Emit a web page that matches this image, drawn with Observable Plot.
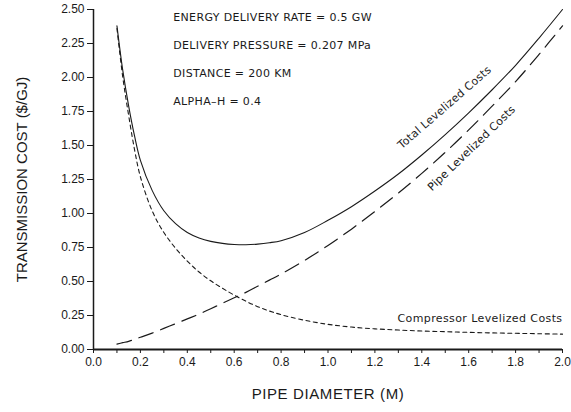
<!DOCTYPE html>
<html>
<head>
<meta charset="utf-8">
<script src="https://cdn.jsdelivr.net/npm/d3@7"></script>
<script src="https://cdn.jsdelivr.net/npm/@observablehq/plot@0.6"></script>
<style>
  html, body { margin: 0; padding: 0; background: #fff; }
  svg { font-family: "Liberation Sans", Arial, sans-serif; }
</style>
</head>
<body>
<div id="chart"></div>
<script>
const diameters = [0.1,0.125,0.15,0.175,0.2,0.25,0.3,0.35,0.4,0.45,0.5,0.55,0.6,0.65,0.7,0.75,0.8,0.9,1.0,1.1,1.2,1.3,1.4,1.5,1.6,1.7,1.8,1.9,2.0];
const totalCost = [2.38,2.05,1.79,1.57,1.39,1.17,1.02,0.925,0.86,0.82,0.795,0.78,0.772,0.77,0.775,0.785,0.80,0.86,0.95,1.05,1.165,1.29,1.43,1.58,1.74,1.91,2.09,2.29,2.50];
const compressorCost = [2.36,2.00,1.72,1.47,1.27,1.02,0.86,0.745,0.65,0.57,0.505,0.45,0.40,0.355,0.315,0.283,0.256,0.215,0.185,0.165,0.152,0.143,0.136,0.131,0.126,0.122,0.119,0.116,0.113];
const pipeCost = [0.04,0.05,0.06,0.075,0.09,0.12,0.155,0.19,0.225,0.26,0.30,0.34,0.38,0.42,0.465,0.51,0.555,0.655,0.765,0.885,1.015,1.15,1.295,1.45,1.615,1.79,1.97,2.17,2.38];

const xTicks = [0.0,0.2,0.4,0.6,0.8,1.0,1.2,1.4,1.6,1.8,2.0];
const xMinorTicks = [0.1,0.3,0.5,0.7,0.9,1.1,1.3,1.5,1.7,1.9];
const yTicks = [0.00,0.25,0.50,0.75,1.00,1.25,1.50,1.75,2.00,2.25,2.50];

const notes = ["ENERGY DELIVERY RATE = 0.5 GW","DELIVERY PRESSURE = 0.207 MPa","DISTANCE = 200 KM","ALPHA\u2013H = 0.4"];
const noteX = [0.34,0.34,0.34,0.34];
const noteY = [2.44,2.235,2.03,1.825];

const xTitle = "PIPE DIAMETER (M)";
const yTitle = "TRANSMISSION COST ($/GJ)";

const slopedLabels = [
  {text: "Total Levelized Costs", x: 1.497, y: 1.78, rotate: -41},
  {text: "Pipe Levelized Costs", x: 1.612, y: 1.48, rotate: -44}
];
const flatLabels = [
  {text: "Compressor Levelized Costs", x: 2.0, y: 0.225}
];

const rows = (vals) => diameters.map((d, i) => ({d, v: vals[i]}));
const ink = "#1a1a1a";
const labelFont = "'DejaVu Sans', Verdana, sans-serif";

const chart = Plot.plot({
  width: 571,
  height: 412,
  marginLeft: 93,
  marginRight: 9,
  marginTop: 9,
  marginBottom: 63,
  style: {fontFamily: "'Liberation Sans', Arial, sans-serif", color: ink, background: "#fff"},
  x: {domain: [0, 2]},
  y: {domain: [0, 2.5]},
  marks: [
    Plot.axisY({ticks: yTicks, tickFormat: d3.format(".2f"), tickSize: 6, tickPadding: 3, fontSize: 12, label: null, stroke: ink}),
    Plot.axisX({ticks: xTicks, tickFormat: d3.format(".1f"), tickSize: 4, tickPadding: 4, fontSize: 12, label: null, stroke: ink}),
    Plot.axisX({ticks: xMinorTicks, tickFormat: () => "", tickSize: 4, label: null, stroke: ink}),
    Plot.ruleX([0], {stroke: ink, strokeWidth: 1.5}),
    Plot.ruleY([0], {stroke: ink, strokeWidth: 2}),
    Plot.line(rows(totalCost), {x: "d", y: "v", curve: "catmull-rom", stroke: ink, strokeWidth: 1.1}),
    Plot.line(rows(compressorCost), {x: "d", y: "v", curve: "catmull-rom", stroke: ink, strokeWidth: 1.1, strokeDasharray: "4,3.5"}),
    Plot.line(rows(pipeCost), {x: "d", y: "v", curve: "catmull-rom", stroke: ink, strokeWidth: 1.2, strokeDasharray: "15,8"}),
    Plot.text(notes, {x: (d, i) => noteX[i], y: (d, i) => noteY[i], text: d => d, textAnchor: "start", fontSize: 11, fontFamily: labelFont, fill: ink, className: "note"}),
    Plot.text(slopedLabels, {x: "x", y: "y", text: "text", rotate: "rotate", textAnchor: "middle", fontSize: 11, fontFamily: labelFont, fill: ink, className: "sloped"}),
    Plot.text(flatLabels, {x: "x", y: "y", text: "text", textAnchor: "end", fontSize: 11, fontFamily: labelFont, fill: ink, className: "flat"}),
    Plot.text([xTitle], {frameAnchor: "bottom", textAnchor: "middle", dy: 49, fontSize: 15, fill: ink}),
    Plot.text([yTitle], {frameAnchor: "left", textAnchor: "middle", dx: -71, rotate: -90, fontSize: 15, fill: ink})
  ]
});
const spacing = (sel, v) => chart.querySelectorAll(sel).forEach(g => g.setAttribute("letter-spacing", v));
spacing(".note", "0.35");
spacing(".sloped", "0.25");
spacing(".flat", "0.4");
chart.querySelectorAll("text").forEach(t => {
  if (t.textContent === xTitle) t.setAttribute("letter-spacing", "0.6");
});
document.getElementById("chart").appendChild(chart);
</script>
</body>
</html>
